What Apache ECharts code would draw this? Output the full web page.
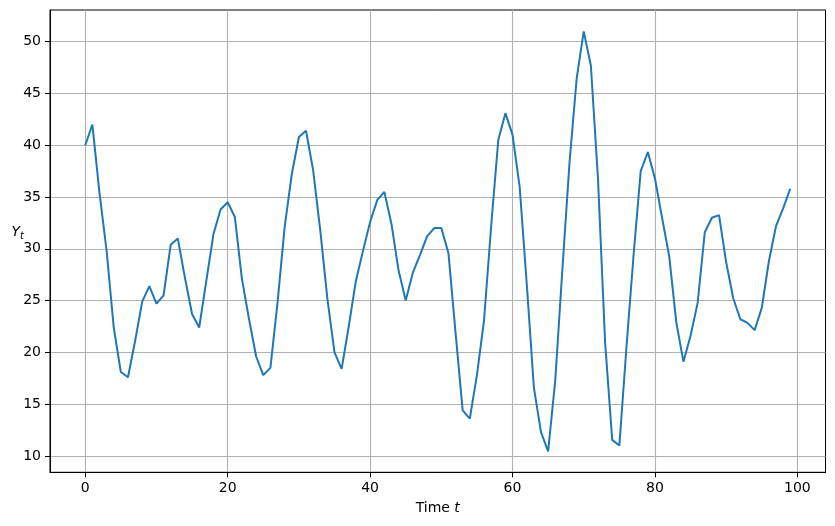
<!DOCTYPE html>
<html>
<head>
<meta charset="utf-8">
<script src="https://cdn.jsdelivr.net/npm/echarts@6/dist/echarts.min.js"></script>
<style>
html,body{margin:0;padding:0;background:#fff;}
#chart{width:835px;height:526px;}
</style>
</head>
<body>
<div id="chart"></div>
<script>
const timeSteps = Array.from({length: 100}, (_, i) => i);
const yValues = [
  40.0, 42.0, 35.4, 29.8, 22.4, 18.1, 17.6, 21.1, 24.9, 26.4,
  24.7, 25.5, 30.4, 31.0, 27.2, 23.7, 22.4, 26.9, 31.4, 33.8,
  34.5, 33.1, 27.1, 23.2, 19.6, 17.8, 18.5, 24.8, 32.1, 37.2,
  40.8, 41.4, 37.6, 31.8, 25.2, 20.0, 18.4, 22.5, 26.9, 29.8,
  32.6, 34.7, 35.5, 32.4, 27.9, 25.0, 27.7, 29.4, 31.2, 32.0,
  32.0, 29.6, 21.9, 14.4, 13.6, 17.8, 23.1, 32.2, 40.5, 43.1,
  41.0, 36.0, 26.6, 16.6, 12.3, 10.45, 17.3, 28.0, 38.3, 46.4,
  51.0, 47.7, 36.8, 21.0, 11.55, 11.0, 20.5, 29.4, 37.5, 39.35,
  36.8, 33.0, 29.3, 22.9, 19.1, 21.6, 24.8, 31.6, 33.0, 33.25,
  28.7, 25.2, 23.2, 22.85, 22.15, 24.3, 28.8, 32.2, 33.9, 35.8
];
const xTicks = [0, 20, 40, 60, 80, 100];
const yTicks = [10, 15, 20, 25, 30, 35, 40, 45, 50];

const chart = echarts.init(document.getElementById('chart'), null, {renderer: 'canvas'});
const font = 'DejaVu Sans';
const xMin = -4.95, xMax = 103.95;
const yMin = 8.42, yMax = 53.06;

chart.setOption({
  animation: false,
  backgroundColor: '#fff',
  grid: {left: 50, right: 9.5, top: 10, bottom: 53.7, show: true, borderColor: '#000', borderWidth: 1, backgroundColor: 'transparent'},
  xAxis: {
    type: 'value', min: xMin, max: xMax,
    name: '{n|Time }{i|t}', nameLocation: 'middle', nameGap: 29,
    nameTextStyle: {rich: {n: {fontFamily: font, fontSize: 14, color: '#000'}, i: {fontFamily: font, fontStyle: 'italic', fontSize: 14, color: '#000'}}},
    axisLine: {show: true, onZero: false, lineStyle: {color: '#000', width: 1}},
    axisTick: {show: true, length: 5, customValues: xTicks, lineStyle: {color: '#000', width: 1}},
    axisLabel: {customValues: xTicks, fontFamily: font, fontSize: 14, color: '#000', margin: 9},
    splitLine: {show: true, lineStyle: {color: '#b0b0b0', width: 1.1}}
  },
  yAxis: {
    type: 'value', min: yMin, max: yMax,
    name: '{i|Y}{s|t}', nameLocation: 'middle', nameGap: 26, nameRotate: 0,
    nameMoveOverlap: false,
    nameTextStyle: {padding: [0, 0, 18, 0], rich: {i: {fontFamily: font, fontStyle: 'italic', fontSize: 14, color: '#000'}, s: {fontFamily: font, fontStyle: 'italic', fontSize: 10, color: '#000', padding: [8, 0, 0, 0]}}},
    axisLine: {show: true, onZero: false, lineStyle: {color: '#000', width: 1}},
    axisTick: {show: true, length: 5, customValues: yTicks, lineStyle: {color: '#000', width: 1}},
    axisLabel: {customValues: yTicks, fontFamily: font, fontSize: 14, color: '#000', margin: 9},
    splitLine: {show: true, lineStyle: {color: '#b0b0b0', width: 1.1}}
  },
  series: [{
    type: 'line',
    data: timeSteps.map((t, i) => [t, yValues[i]]),
    showSymbol: false,
    lineStyle: {color: '#1f77b4', width: 2},
    itemStyle: {color: '#1f77b4'}
  }]
});
</script>
</body>
</html>
